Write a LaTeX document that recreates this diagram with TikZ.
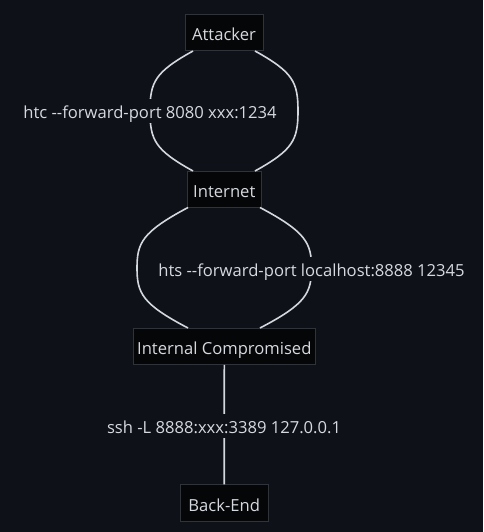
\documentclass[tikz,border=0pt]{standalone}
\usepackage{fontspec}
\setmainfont{Open Sans}
\begin{document}
\begin{tikzpicture}[x=1pt,y=-1pt,
  every node/.style={font=\fontsize{16.6}{19}\selectfont, text=txt},
  box/.style={draw=bordc, fill=boxfill, line width=1pt, inner sep=0pt, anchor=center, text height=16pt, text depth=0pt},
  link/.style={draw=linec, line width=1.6pt},
  lbl/.style={fill=bg, inner xsep=1pt, inner ysep=4.5pt, text height=15pt, text depth=0pt}]
\definecolor{bg}{HTML}{0F1118}
\definecolor{boxfill}{HTML}{050608}
\definecolor{bordc}{HTML}{30333A}
\definecolor{linec}{HTML}{D3D7DE}
\definecolor{txt}{HTML}{D6D9DF}
\fill[bg] (0,0) rectangle (483,532);
\useasboundingbox (0,0) rectangle (483,532);
\node[box, minimum width=78pt, minimum height=36pt] (att) at (224,33) {Attacker};
\node[box, minimum width=74pt, minimum height=36pt] (inet) at (224.3,189.3) {Internet};
\node[box, minimum width=182pt, minimum height=36pt] (ic) at (224.3,346.3) {Internal Compromised};
\node[box, minimum width=88pt, minimum height=36.5pt] (be) at (224.2,503) {Back-End};
% Attacker -> Internet
\coordinate (a1) at (193,51);
\coordinate (a2) at (193,171);
\coordinate (b1) at (255,51);
\coordinate (b2) at (255,171);
\draw[link] (a1) .. controls (155,72) and (150,82) .. (150,111) .. controls (150,140) and (155,150) .. (a2);
\draw[link] (b1) .. controls (293,72) and (298,82) .. (298,111) .. controls (298,140) and (293,150) .. (b2);
\node[lbl] (l1) at (150,111) {htc -{}-forward-port 8080 xxx:1234};
% Internet -> Internal
\coordinate (c1) at (188,207.5);
\coordinate (c2) at (188,328);
\coordinate (d1) at (260,207.5);
\coordinate (d2) at (260,328);
\draw[link] (c1) .. controls (142,232) and (137,243) .. (137,268) .. controls (137,293) and (142,304) .. (c2);
\draw[link] (d1) .. controls (306,232) and (311.5,243) .. (311.5,268) .. controls (311.5,293) and (306,304) .. (d2);
\node[lbl] (l2) at (311.5,269) {hts -{}-forward-port localhost:8888 12345};
% Internal -> Back-End
\draw[link] (ic.south) -- (be.north);
\node[lbl] (l3) at (224,426) {ssh -L 8888:xxx:3389 127.0.0.1};
\end{tikzpicture}
\end{document}
